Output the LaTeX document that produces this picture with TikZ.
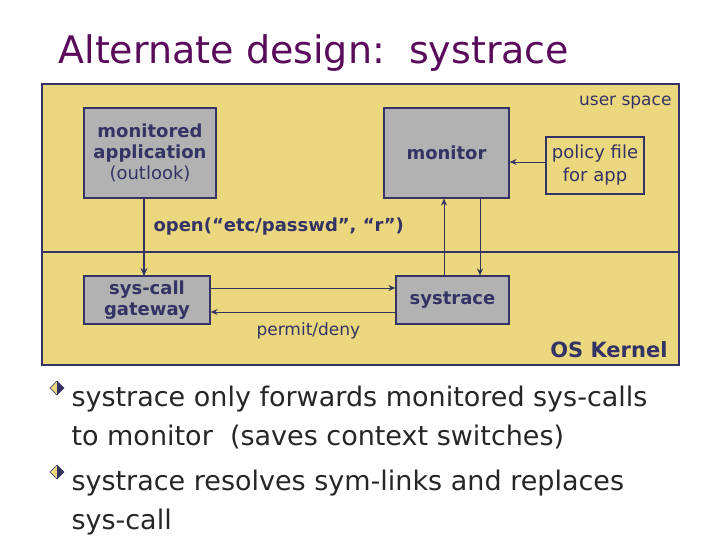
\documentclass[tikz,border=0pt]{standalone}
\usepackage{fontspec}
\setmainfont{DejaVu Sans}
\usetikzlibrary{arrows.meta}
\usetikzlibrary{positioning}
\definecolor{navy}{HTML}{333366}
\definecolor{sand}{HTML}{EBD77E}
\definecolor{boxgray}{HTML}{B2B2B2}
\definecolor{plum}{HTML}{5A0A5A}
\tikzset{
  box/.style={draw=navy,line width=1.2pt,fill=boxgray,text=navy,font=\fontsize{18}{21}\selectfont\bfseries,align=center,inner sep=0pt},
  flow/.style={navy,line width=1.2pt,-{Stealth[length=8pt,width=7pt]}},
  thin flow/.style={navy,line width=0.9pt,-{Stealth[length=7pt,width=6pt]}},
  bullettext/.style={anchor=base west,font=\fontsize{27}{30}\selectfont,text=black!85}
}
\begin{document}
\begin{tikzpicture}[x=1pt,y=-1pt]
    \useasboundingbox (0,0) rectangle (720,540);

    % title
    \node[anchor=base west,text=plum,font=\fontsize{38}{44}\selectfont] (title) at (55,64) {Alternate design:\ \ systrace};

    % user space and kernel
    \draw[navy,line width=1.2pt,fill=sand] (42,84) rectangle (679,365);
    \draw[navy,line width=2.5pt] (42,252) -- (679,252);
    \node[anchor=base east,text=navy,font=\fontsize{17}{20}\selectfont] (user) at (675,106) {user space};
    \node[anchor=base east,text=navy,font=\fontsize{21}{24}\selectfont\bfseries] (kernel) at (671,357) {OS Kernel};

    % boxes
    \node[box,minimum width=132pt,minimum height=90pt] (app) at (150,153) {monitored\\application\\{\mdseries(outlook)}};
    \node[box,minimum width=125pt,minimum height=90pt] (monitor) at (446.5,153) {monitor};
    \node[box,fill=sand,font=\fontsize{18}{23}\selectfont,minimum width=98pt,minimum height=57pt] (policy) at (595,165.5) {policy file\\for app};
    \node[box,minimum width=126pt,minimum height=48pt] (gateway) at (147,300) {sys-call\\gateway};
    \node[box,minimum width=113pt,minimum height=48pt] (systrace) at (452.5,300) {systrace};

    % connectors
    \coordinate (appout) at (144,198);
    \coordinate (gwin) at (144,276);
    \draw[flow] (appout) -- (gwin);
    \node[anchor=base west,text=navy,font=\fontsize{18}{21}\selectfont\bfseries] (call) at (150,232) {open(“etc/passwd”, “r”)};
    \draw[thin flow] (policy.west |- 0,162) -- (monitor.east |- 0,162);
    \draw[thin flow] (systrace.north -| 444,0) -- (monitor.south -| 444,0);
    \draw[thin flow] (monitor.south -| 480,0) -- (systrace.north -| 480,0);
    \draw[thin flow] (gateway.east |- 0,288) -- (systrace.west |- 0,288);
    \draw[thin flow] (systrace.west |- 0,312) -- (gateway.east |- 0,312);
    \node[anchor=base west,text=navy,font=\fontsize{17}{20}\selectfont] (verdict) at (253,335) {permit/deny};

    % bullets
    \foreach \y/\name in {397/one,481/two}{
      \draw[navy,fill=sand,line width=0.6pt] (50,\y-9) -- (57,\y-16) -- (64,\y-9) -- (57,\y-2) -- cycle;
      \fill[navy] (57,\y-16) -- (64,\y-9) -- (57,\y-2) -- cycle;
    }
    \node[bullettext] (b1) at (68,406) {systrace only forwards monitored sys-calls};
    \node[bullettext] (b1b) at (68,445) {to monitor\ \ (saves context switches)};
    \node[bullettext] (b2) at (68,490) {systrace resolves sym-links and replaces};
    \node[bullettext] (b2b) at (68,529) {sys-call};
\end{tikzpicture}
\end{document}
